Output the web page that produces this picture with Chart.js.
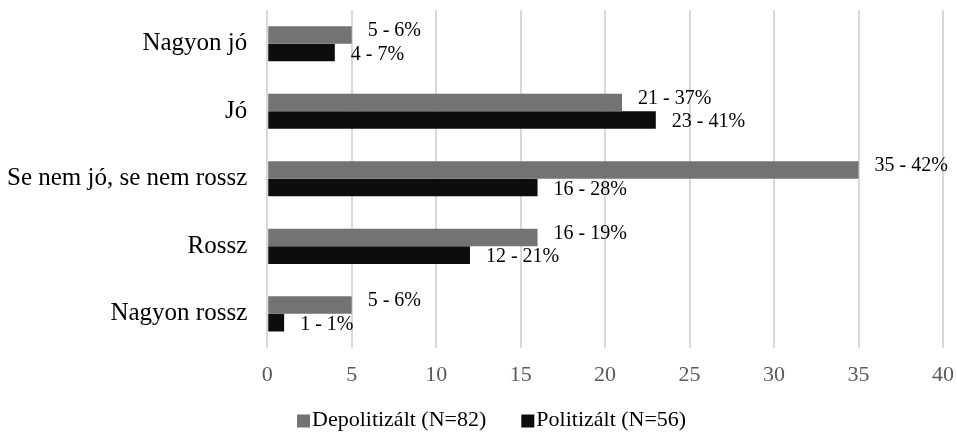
<!DOCTYPE html>
<html>
<head>
<meta charset="utf-8">
<script src="https://cdn.jsdelivr.net/npm/chart.js@4"></script>
<style>
  html, body { margin: 0; padding: 0; background: #fff; }
  #wrap { width: 957px; height: 432px; }
</style>
</head>
<body>
<div id="wrap"><canvas id="chart"></canvas></div>
<script>
// Kategóriák és értékek
const categories = ["Nagyon jó", "Jó", "Se nem jó, se nem rossz", "Rossz", "Nagyon rossz"];
const depolValues = [5, 21, 35, 16, 5];
const depolPct = [6, 37, 42, 19, 6];
const polValues = [4, 23, 16, 12, 1];
const polPct = [7, 41, 28, 21, 1];
const xTicks = [0, 5, 10, 15, 20, 25, 30, 35, 40];

const serif = "'Liberation Serif', 'Times New Roman', serif";

// Feliratok a sávok végén: "érték - százalék%"
const barLabels = {
    id: "barLabels",
    afterDatasetsDraw(chart) {
        const ctx = chart.ctx;
        const pcts = [depolPct, polPct];
        const dy = [-4, 2];
        ctx.save();
        ctx.font = "20px " + serif;
        ctx.fillStyle = "#000";
        ctx.textBaseline = "middle";
        ctx.textAlign = "left";
        chart.data.datasets.forEach((ds, di) => {
            chart.getDatasetMeta(di).data.forEach((bar, i) => {
                ctx.fillText(ds.data[i] + " - " + pcts[di][i] + "%", bar.x + 16, bar.y + dy[di]);
            });
        });
        ctx.restore();
    },
};

// Jelmagyarázat alul, szorosan a négyzet mellé írt szöveggel
const bottomLegend = {
    id: "bottomLegend",
    afterDraw(chart) {
        const ctx = chart.ctx;
        const box = 13;
        const y = 420;
        let x = 297;
        ctx.save();
        ctx.font = "22px " + serif;
        ctx.textBaseline = "middle";
        ctx.textAlign = "left";
        chart.data.datasets.forEach((ds) => {
            ctx.fillStyle = ds.backgroundColor;
            ctx.fillRect(x, y - box / 2 + 1, box, box);
            ctx.fillStyle = "#000";
            ctx.fillText(ds.label, x + box + 2, y);
            x += box + 2 + ctx.measureText(ds.label).width + 35;
        });
        ctx.restore();
    },
};

new Chart(document.getElementById("chart"), {
    type: "bar",
    data: {
        labels: categories,
        datasets: [
            {
                label: "Depolitizált (N=82)",
                data: depolValues,
                backgroundColor: "#737373",
                barPercentage: 1,
                categoryPercentage: 0.52,
            },
            {
                label: "Politizált (N=56)",
                data: polValues,
                backgroundColor: "#0d0d0d",
                barPercentage: 1,
                categoryPercentage: 0.52,
            },
        ],
    },
    options: {
        indexAxis: "y",
        responsive: true,
        maintainAspectRatio: false,
        animation: false,
        layout: { padding: { top: 10, right: 14, left: -13, bottom: 30 } },
        scales: {
            x: {
                min: 0,
                max: 40,
                afterBuildTicks: (axis) => {
                    axis.ticks = xTicks.map((v) => ({ value: v }));
                },
                afterFit: (axis) => {
                    axis.paddingLeft = 0;
                    axis.paddingRight = 0;
                },
                grid: { color: "#d9d9d9", lineWidth: 2, drawTicks: false },
                border: { display: false },
                ticks: { color: "#595959", padding: 14, font: { family: serif, size: 22 } },
            },
            y: {
                afterFit: (axis) => {
                    axis.paddingTop = 0;
                    axis.paddingBottom = 0;
                },
                grid: { display: false, drawTicks: false },
                border: { display: false },
                ticks: { color: "#000", padding: 20, font: { family: serif, size: 25 } },
            },
        },
        plugins: {
            legend: { display: false },
            tooltip: { enabled: false },
        },
    },
    plugins: [barLabels, bottomLegend],
});
</script>
</body>
</html>
